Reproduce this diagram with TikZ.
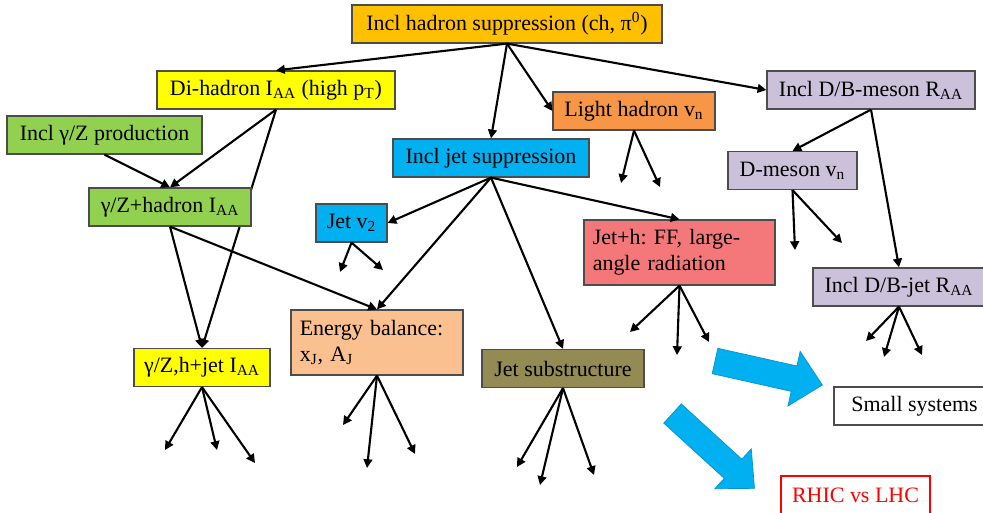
\documentclass[tikz,border=0pt]{standalone}
\usepackage{fontspec}
\setmainfont{Liberation Serif}
\usetikzlibrary{arrows.meta}
\definecolor{hadgold}{HTML}{FFC000}
\definecolor{yel}{HTML}{FFFF00}
\definecolor{lime}{HTML}{92D050}
\definecolor{sky}{HTML}{00B0F0}
\definecolor{tang}{HTML}{F79646}
\definecolor{lav}{HTML}{CCC1DA}
\definecolor{rose}{HTML}{F4777A}
\definecolor{peach}{HTML}{FAC090}
\definecolor{khaki}{HTML}{948A54}
\frenchspacing
\begin{document}
\begin{tikzpicture}[x=0.02cm, y=-0.02cm, font=\fontsize{12.5}{15}\selectfont,
  bx/.style={draw=black!70, line width=0.7pt, inner xsep=5pt, minimum height=0.76cm},
  tall/.style={bx, align=left, minimum height=1.3cm},
  arr/.style={-{Triangle[length=5pt,width=5pt]}, line width=1.2pt},
  blk/.style={fill=sky, draw=sky!85!black, line width=0.4pt},
]
  \useasboundingbox (0,0) rectangle (983,513);

  \node[bx, fill=hadgold, minimum width=6.2cm] (hs) at (507,24) {Incl hadron suppression (ch, π\textsuperscript{0})};
  \node[bx, fill=yel, minimum width=4.76cm] (dh) at (276,90) {Di-hadron I\textsubscript{AA} (high p\textsubscript{T})};
  \node[bx, fill=lime, minimum width=3.9cm] (gz) at (104.5,135) {Incl γ/Z production};
  \node[bx, fill=yel, minimum width=2.72cm] (gj) at (202,367.5) {γ/Z,h+jet I\textsubscript{AA}};

  \draw[arr] (dh.south) -- (gj.north);
  \node[bx, fill=lime, minimum width=3.24cm] (gh) at (170,207) {γ/Z+hadron I\textsubscript{AA}};

  \node[bx, fill=sky, minimum width=3.92cm] (js0) at (491,158) {Incl jet suppression};
  \node[bx, fill=sky, minimum width=1.42cm] (jv) at (351.5,223) {Jet v\textsubscript{2}};
  \node[bx, fill=tang, minimum width=3.24cm] (lh) at (634,111) {Light hadron v\textsubscript{n}};
  \node[bx, fill=lav, minimum width=4.16cm] (dbm) at (871,90) {Incl D/B-meson R\textsubscript{AA}};
  \node[bx, fill=lav, minimum width=2.58cm] (dm) at (792.5,170.5) {D-meson v\textsubscript{n}};
  \node[tall, fill=rose, text width=3.47cm] (jh) at (679.5,252.5) {Jet+h: FF, large-\\angle radiation};
  \node[bx, fill=lav, minimum width=3.44cm] (dj) at (899,287) {Incl D/B-jet R\textsubscript{AA}};
  \node[bx, fill=khaki, minimum width=3.24cm] (js) at (563,368.5) {Jet substructure};
  \node[tall, fill=peach, text width=3.09cm] (eb) at (377,342.5) {Energy balance:\\x\textsubscript{J}, A\textsubscript{J}};
  \node[bx, fill=white, minimum width=3.22cm] (ss) at (914.5,406) {Small systems};
  \node[bx, draw=red, text=red, fill=white, minimum width=2.98cm] (rl) at (855.5,495) {RHIC vs LHC};

  \draw[arr] (hs.south) -- (dh.north);
  \draw[arr] (hs.south) -- (js0.north);
  \draw[arr] (hs.south) -- (lh.west);
  \draw[arr] (hs.south) -- (dbm.west);
  \draw[arr] (dh.south) -- (gh.north);
  \draw[arr] (gz.south) -- (gh.north);
  \draw[arr] (gh.south) -- (gj.north);
  \draw[arr] (gh.south) -- (eb.north);
  \draw[arr] (js0.south) -- (jv.east);
  \draw[arr] (js0.south) -- (eb.north);
  \draw[arr] (js0.south) -- (js.north);
  \draw[arr] (js0.south) -- (jh.north);
  \draw[arr] (dbm.south) -- (dm.north);
  \draw[arr] (dbm.south) -- (dj.north);

  \foreach \s/\x/\y [count=\i] in {jv/340/272, jv/383/270, lh/621/183, lh/660/187,
      dm/795/250, dm/842/243, jh/630/332, jh/677/355, jh/709/342,
      dj/866/341, dj/884/357, dj/922/355, js/517/467, js/540/485, js/594/475,
      eb/343/425, eb/367/468, eb/415/454, gj/165/450, gj/217/450, gj/255/463}
    {\coordinate (end\i) at (\x,\y);
     \draw[arr] (\s.south) -- (end\i);}

  \begin{scope}[shift={(715,361)}, rotate=-12.6]
    \draw[blk] (0,-13) -- (81,-13) -- (81,-28) -- (110,0) -- (81,28) -- (81,13) -- (0,13) -- cycle;
  \end{scope}
  \begin{scope}[shift={(672.5,413.5)}, rotate=-42.4]
    \draw[blk] (0,-13) -- (82,-13) -- (82,-27) -- (111,0) -- (82,27) -- (82,13) -- (0,13) -- cycle;
  \end{scope}
\end{tikzpicture}
\end{document}
